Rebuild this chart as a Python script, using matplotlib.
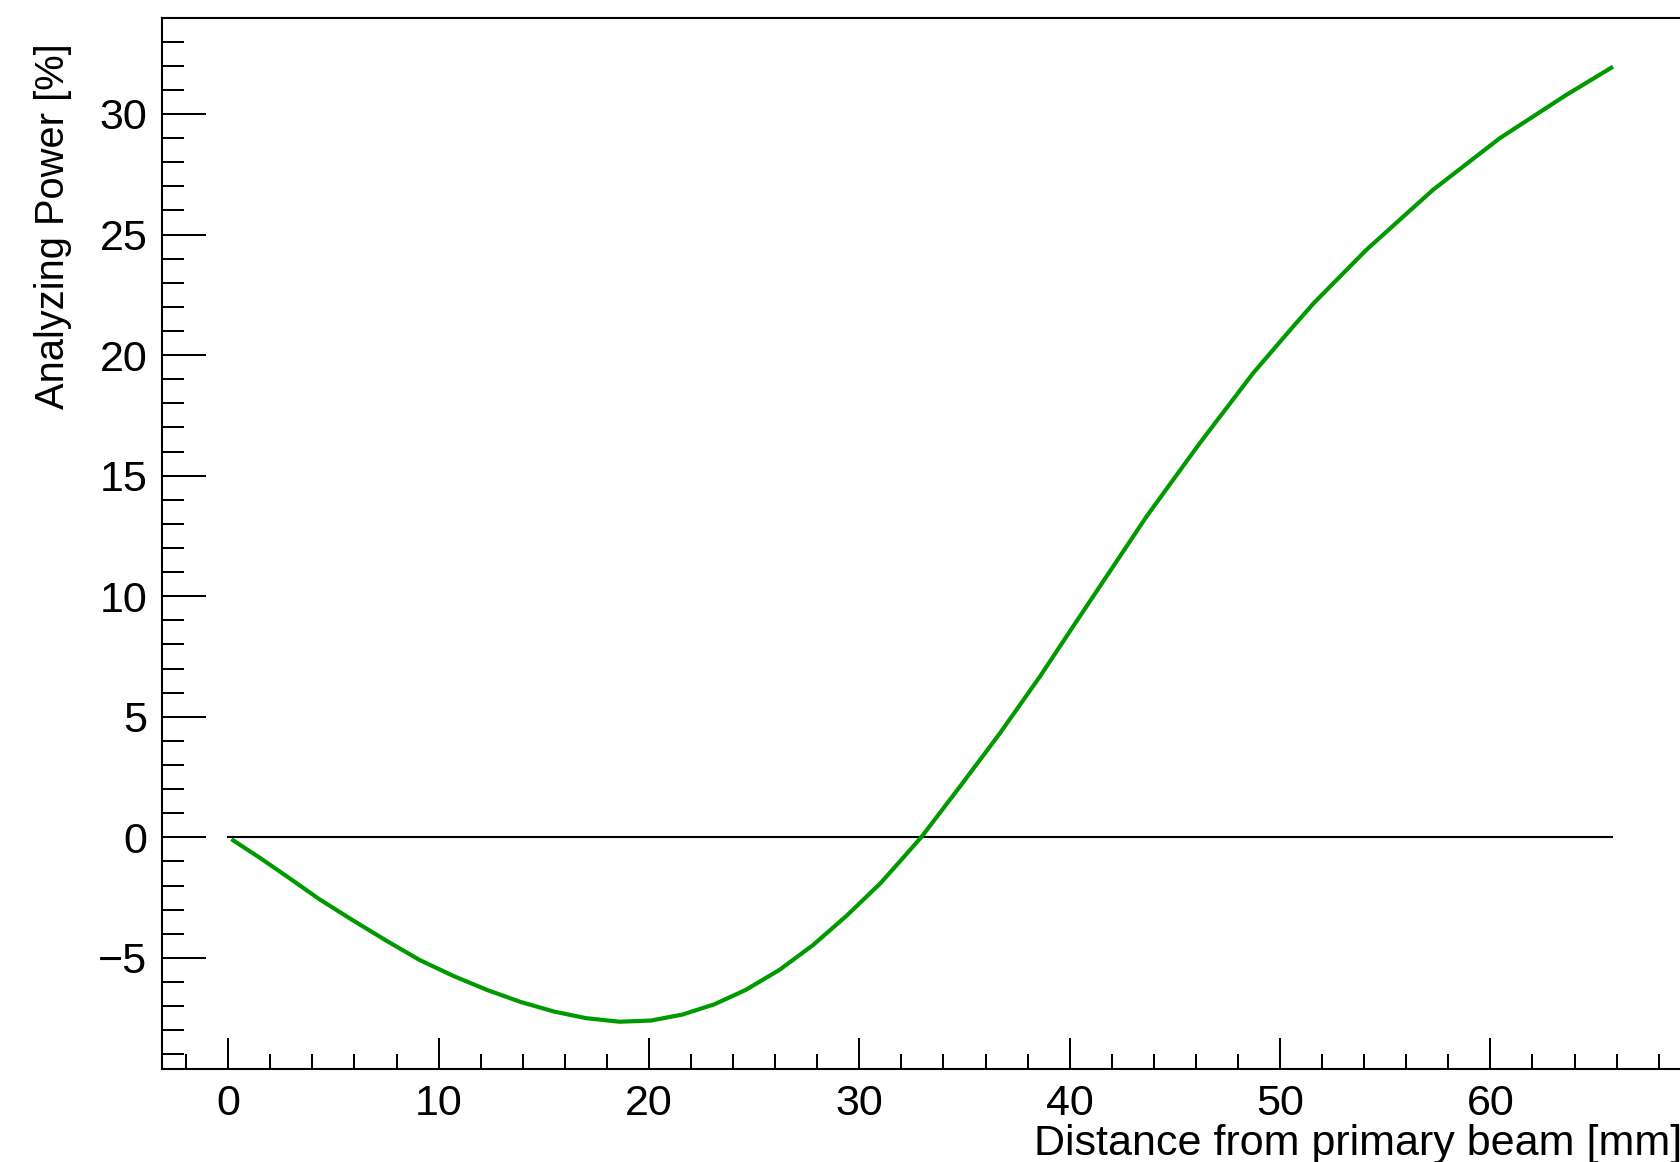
import numpy as np
import matplotlib
matplotlib.use("Agg")
import matplotlib.pyplot as plt
from matplotlib.ticker import MultipleLocator

plt.rcParams['font.family'] = ['Liberation Sans', 'DejaVu Sans']

# values
distance = [0.15, 1.5, 2.8, 4.3, 5.9, 7.5, 9.1, 10.7, 12.3, 13.9, 15.5, 17.0,
            18.6, 20.1, 21.6, 23.1, 24.6, 26.2, 27.8, 29.4, 31.0, 31.93,
            32.96, 34.78, 36.68, 38.58, 40.16, 41.4, 43.65, 46.18, 48.72,
            50.62, 51.6, 54.1, 57.27, 60.44, 63.61, 65.83]
power = [-0.08, -0.85, -1.63, -2.55, -3.43, -4.28, -5.09, -5.75, -6.33, -6.83,
         -7.23, -7.50, -7.65, -7.60, -7.35, -6.93, -6.33, -5.50, -4.47, -3.25,
         -1.91, -1.0, 0.02, 2.10, 4.31, 6.66, 8.74, 10.36, 13.30, 16.34,
         19.25, 21.18, 22.15, 24.36, 26.85, 28.99, 30.79, 31.96]
zero_x = [0.0, 65.8]
zero_y = [0.0, 0.0]

fig = plt.figure(figsize=(16.8, 11.62), dpi=100)
ax = fig.add_axes([162/1680, 1 - 1069/1162, (1686 - 162)/1680, (1069 - 18)/1162])

ax.plot(zero_x, zero_y, color='black', lw=1.5)
ax.plot(distance, power, color='#009a00', lw=3.0, solid_capstyle='butt',
        solid_joinstyle='round')

ax.set_xlim(-3.15, 69.3)
ax.set_ylim(-9.61, 33.98)

ax.xaxis.set_major_locator(MultipleLocator(10))
ax.xaxis.set_minor_locator(MultipleLocator(2))
ax.yaxis.set_major_locator(MultipleLocator(5))
ax.yaxis.set_minor_locator(MultipleLocator(1))

ax.tick_params(axis='both', which='both', direction='in', width=1.45,
               top=False, right=False, labelsize=31)
ax.tick_params(axis='x', which='major', length=22, pad=11)
ax.tick_params(axis='x', which='minor', length=11)
ax.tick_params(axis='y', which='major', length=32, pad=10.5)
ax.tick_params(axis='y', which='minor', length=16)

for s in ['left', 'bottom', 'top']:
    ax.spines[s].set_linewidth(1.5)
ax.spines['right'].set_visible(False)

fig.text(1682/1680, 1 - 1155/1162, 'Distance from primary beam [mm]',
         ha='right', va='baseline', fontsize=31)
fig.text(53/1680, 1 - 43/1162, 'Analyzing Power [%]', rotation=90,
         ha='center', va='top', fontsize=28.7)

fig.savefig('out.png', dpi=100)
